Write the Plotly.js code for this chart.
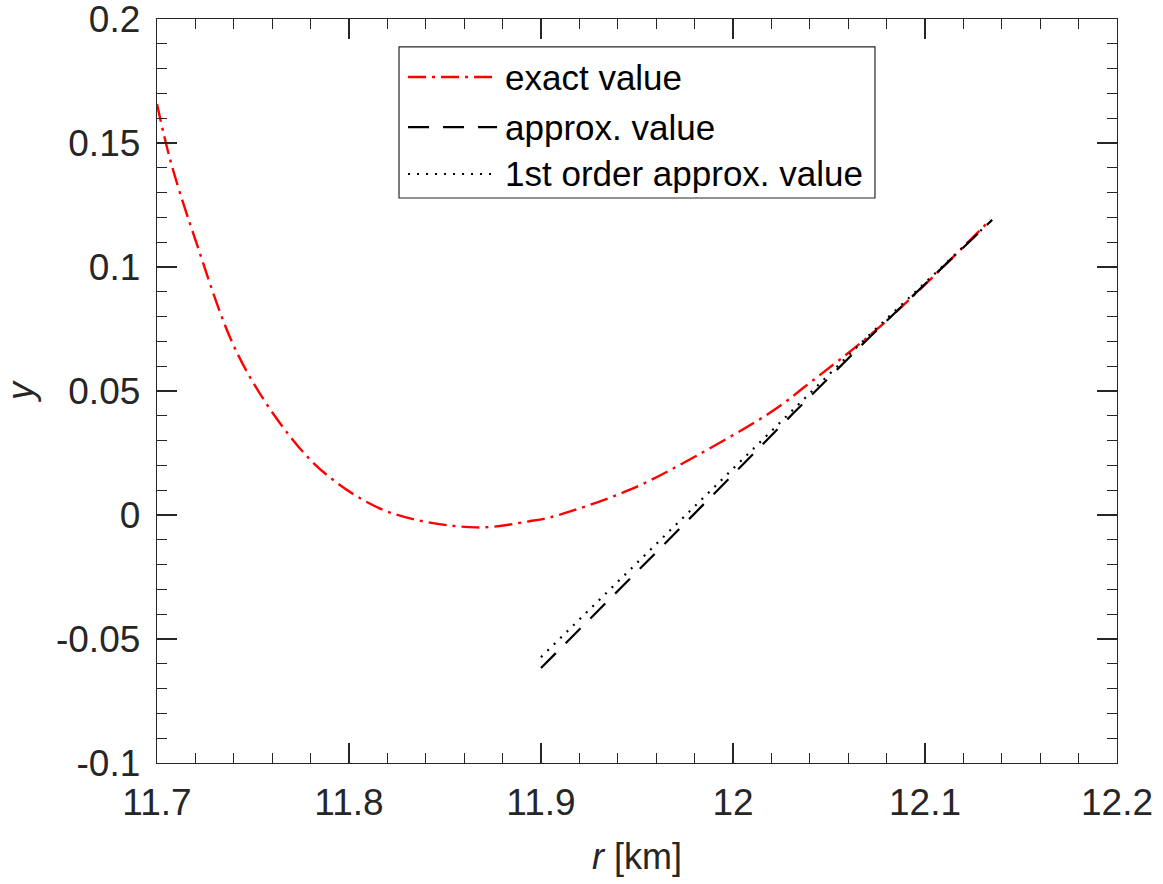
<!DOCTYPE html>
<html>
<head>
<meta charset="utf-8">
<script src="https://cdn.plot.ly/plotly-3.0.1.min.js"></script>
<style>html,body{margin:0;padding:0;background:#fff;}#chart{width:1163px;height:884px;}</style>
</head>
<body>
<div id="chart"></div>
<script>
// ---- data ----
const exactR = [11.700, 11.707, 11.719, 11.742, 11.769, 11.790, 11.821, 11.866, 11.894, 11.905, 11.946, 11.981, 12.021, 12.037, 12.077, 12.134];
const exactY = [0.1657, 0.1429, 0.1133, 0.0649, 0.0320, 0.0152, 0.0011, -0.0050, -0.0025, -0.0009, 0.0101, 0.0239, 0.0421, 0.0515, 0.0763, 0.1190];

const approxR = [11.900, 11.966, 12.031, 12.071, 12.135];
const approxY = [-0.0617, -0.0104, 0.0407, 0.0716, 0.1190];

const firstR = [11.900, 11.966, 12.031, 12.071, 12.135];
const firstY = [-0.0573, -0.0072, 0.0425, 0.0726, 0.1190];

const seriesNames = ["exact value", "approx. value", "1st order approx. value"];

const xTickVals = [11.7, 11.8, 11.9, 12.0, 12.1, 12.2];
const xTickText = ["11.7", "11.8", "11.9", "12", "12.1", "12.2"];
const yTickVals = [-0.1, -0.05, 0, 0.05, 0.1, 0.15, 0.2];
const yTickText = ["-0.1", "-0.05", "0", "0.05", "0.1", "0.15", "0.2"];

// ---- styles ----
const FONT = "Liberation Sans, Arial, Helvetica, sans-serif";
const AX = "#262626";
const styles = [
  {color: "#ff0000", width: 2.4, dash: "18px,6px,3px,6px"},
  {color: "#000000", width: 2.2, dash: "21px,14px"},
  {color: "#000000", width: 2.2, dash: "2px,7px"}
];

const traces = [
  {x: exactR, y: exactY, mode: "lines", name: seriesNames[0], line: Object.assign({shape: "spline", smoothing: 1}, styles[0])},
  {x: approxR, y: approxY, mode: "lines", name: seriesNames[1], line: styles[1]},
  {x: firstR, y: firstY, mode: "lines", name: seriesNames[2], line: styles[2]}
];

// custom legend (MATLAB-style long line samples)
const lgX0 = 0.2521, lgX1 = 0.7479, lgY0 = 0.7594, lgY1 = 0.9624;
const rowY = [0.9220, 0.8548, 0.7917];
const sampleX0 = 0.2615, sampleX1 = 0.3542, textX = 0.3600;
const shapes = [{type: "rect", xref: "paper", yref: "paper", x0: lgX0, x1: lgX1, y0: lgY0, y1: lgY1,
  line: {color: AX, width: 1.2}, fillcolor: "#ffffff", layer: "above"}];
const annotations = [];
for (let i = 0; i < 3; i++) {
  shapes.push({type: "line", xref: "paper", yref: "paper", x0: sampleX0, x1: sampleX1, y0: rowY[i], y1: rowY[i],
    line: {color: styles[i].color, width: styles[i].width, dash: styles[i].dash}, layer: "above"});
  annotations.push({xref: "paper", yref: "paper", x: textX, y: rowY[i], xanchor: "left", yanchor: "middle",
    text: seriesNames[i], showarrow: false, font: {family: FONT, size: 35, color: "#000000"}});
}

const axisCommon = {
  showgrid: false, zeroline: false, showline: true, linecolor: AX, linewidth: 1.3,
  mirror: "ticks", ticks: "inside", ticklen: 20, tickwidth: 1.3, tickcolor: AX,
  tickfont: {family: FONT, size: 37, color: AX}, tickmode: "array", ticklabeloverflow: "allow"
};

const layout = {
  width: 1163, height: 884,
  margin: {l: 157, r: 46, t: 19, b: 121},
  paper_bgcolor: "#ffffff", plot_bgcolor: "#ffffff",
  showlegend: false,
  xaxis: Object.assign({}, axisCommon, {
    range: [11.7, 12.2], tickvals: xTickVals, ticktext: xTickText, ticklabelstandoff: 6,
    minor: {dtick: 0.02, ticks: "inside", ticklen: 10, tickwidth: 1.3, tickcolor: AX, showgrid: false},
    title: {text: "<i>r</i> [km]", font: {family: FONT, size: 36, color: AX}, standoff: 22}
  }),
  yaxis: Object.assign({}, axisCommon, {
    range: [-0.1, 0.2], tickvals: yTickVals, ticktext: yTickText, ticklabelstandoff: 8,
    minor: {dtick: 0.01, ticks: "inside", ticklen: 10, tickwidth: 1.3, tickcolor: AX, showgrid: false},
    title: {text: "<i>y</i>", font: {family: FONT, size: 36, color: AX}, standoff: 24}
  }),
  shapes: shapes,
  annotations: annotations
};

Plotly.newPlot("chart", traces, layout, {staticPlot: true, displayModeBar: false});
</script>
</body>
</html>
